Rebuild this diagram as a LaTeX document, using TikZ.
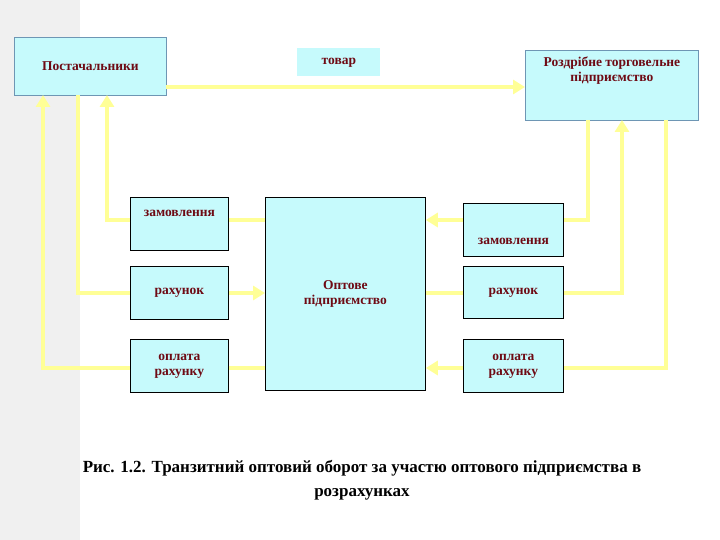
\documentclass[tikz,border=0pt]{standalone}
\usepackage{fontspec}
\setmainfont{Liberation Serif}
\usetikzlibrary{arrows.meta}
\definecolor{boxfill}{RGB}{198,250,252}
\definecolor{txt}{RGB}{110,10,20}
\definecolor{flow}{RGB}{255,255,150}
\definecolor{edge1}{RGB}{110,150,180}
\begin{document}
\begin{tikzpicture}[x=1pt,y=-1pt,
 bx/.style={draw=black,fill=boxfill,line width=0.8pt,text=txt,font=\bfseries\fontsize{13.5}{15}\selectfont,align=center,inner sep=0pt},
 flw/.style={draw=flow,line width=4pt},
 arr/.style={flw,-{Triangle[length=12pt,width=14pt]}}]
\useasboundingbox (0,0) rectangle (720,540);
\fill[gray!12] (0,0) rectangle (80,540);
\fill[white] (80,0) rectangle (720,540);
\node[bx,draw=edge1,minimum width=152pt,minimum height=58pt,anchor=north west] (pos) at (14,37) {Постачальники};
\node[bx,draw=edge1,minimum width=173pt,minimum height=70pt,anchor=north west,text depth=32pt] (roz) at (525,50) {Роздрібне торговельне\\підприємство};
\node[bx,minimum width=98pt,minimum height=53pt,anchor=north west,text depth=22pt] (zl) at (130,197) {замовлення};
\node[bx,minimum width=98pt,minimum height=53pt,anchor=north west] (rl) at (130,266) {рахунок};
\node[bx,minimum width=98pt,minimum height=53pt,anchor=north west] (ol) at (130,339) {оплата\\рахунку};
\node[bx,minimum width=160pt,minimum height=193pt,anchor=north west] (opt) at (265,197) {Оптове\\підприємство};
\node[bx,minimum width=100pt,minimum height=53pt,anchor=north west,text height=30pt] (zr) at (463,203) {замовлення};
\node[bx,minimum width=100pt,minimum height=52pt,anchor=north west] (rr) at (463,266) {рахунок};
\node[bx,minimum width=100pt,minimum height=53pt,anchor=north west] (or) at (463,339) {оплата\\рахунку};
\coordinate (pa) at (166,87);
\coordinate (pb) at (525,87);
\draw[arr] (pa) -- (pb);
\draw[arr] (zl.west |- 0,220) -| (107,95);
\draw[flw] (78,95) |- (rl.west |- 0,293);
\draw[arr] (ol.west |- 0,368) -| (43,95);
\draw[flw] (zl.east |- 0,220) -- (opt.west |- 0,220);
\draw[arr] (rl.east |- 0,293) -- (opt.west |- 0,293);
\draw[flw] (ol.east |- 0,368) -- (opt.west |- 0,368);
\draw[flw] (588,120) |- (zr.east |- 0,220);
\draw[arr] (zr.west |- 0,220) -- (opt.east |- 0,220);
\draw[flw] (opt.east |- 0,293) -- (rr.west |- 0,293);
\draw[arr] (rr.east |- 0,293) -| (622,120);
\draw[flw] (666,120) |- (or.east |- 0,368);
\draw[arr] (or.west |- 0,368) -- (opt.east |- 0,368);
\node[bx,draw=none,minimum width=83pt,minimum height=28pt,anchor=north west] (tov) at (297,48) {товар};
\node[font=\bfseries\fontsize{17}{24}\selectfont,align=center,text=black] (cap) at (362,480) {Рис. 1.2. Транзитний оптовий оборот за участю оптового підприємства в\\розрахунках};
\end{tikzpicture}
\end{document}
